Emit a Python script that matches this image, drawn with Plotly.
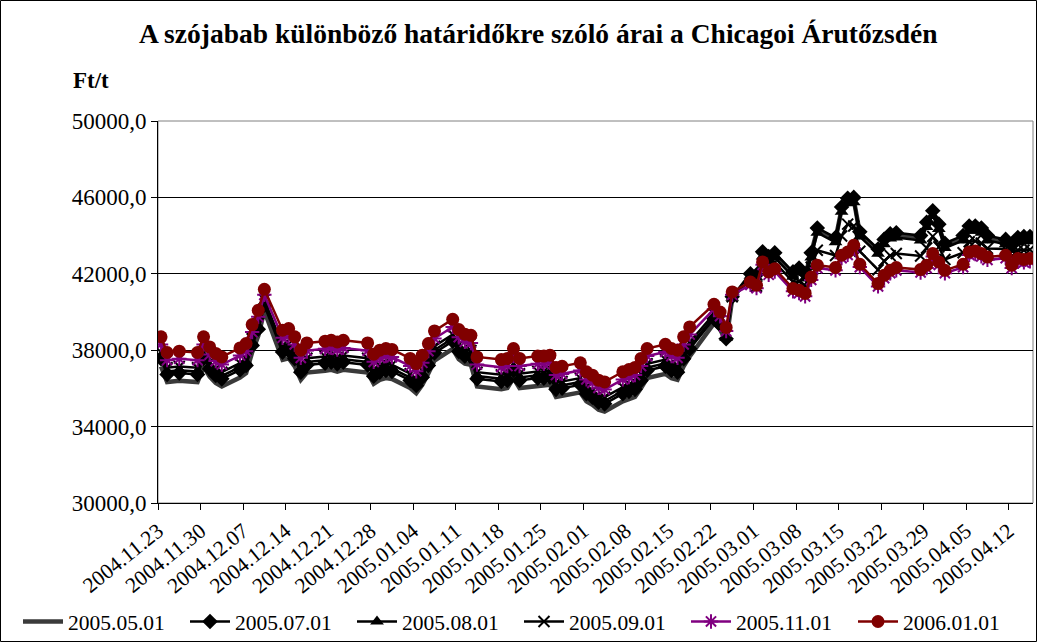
import pandas as pd
import plotly.graph_objects as go

dates = ["2004-11-23","2004-11-24","2004-11-26","2004-11-29","2004-11-30","2004-12-01","2004-12-02","2004-12-03",
         "2004-12-06","2004-12-07","2004-12-08","2004-12-09","2004-12-10","2004-12-13","2004-12-14","2004-12-15",
         "2004-12-16","2004-12-17","2004-12-20","2004-12-21","2004-12-22","2004-12-23","2004-12-27","2004-12-28",
         "2004-12-29","2004-12-30","2004-12-31","2005-01-03","2005-01-04","2005-01-05","2005-01-06","2005-01-07",
         "2005-01-10","2005-01-11","2005-01-12","2005-01-13","2005-01-14","2005-01-18","2005-01-19","2005-01-20",
         "2005-01-21","2005-01-24","2005-01-25","2005-01-26","2005-01-27","2005-01-28","2005-01-31","2005-02-01",
         "2005-02-02","2005-02-03","2005-02-04","2005-02-07","2005-02-08","2005-02-09","2005-02-10","2005-02-11",
         "2005-02-14","2005-02-15","2005-02-16","2005-02-17","2005-02-18","2005-02-22","2005-02-23","2005-02-24",
         "2005-02-25","2005-02-28","2005-03-01","2005-03-02","2005-03-03","2005-03-04","2005-03-07","2005-03-08",
         "2005-03-09","2005-03-10","2005-03-11","2005-03-14","2005-03-15","2005-03-16","2005-03-17","2005-03-18",
         "2005-03-21","2005-03-22","2005-03-23","2005-03-24","2005-03-28","2005-03-29","2005-03-30","2005-03-31",
         "2005-04-01","2005-04-04","2005-04-05","2005-04-06","2005-04-07","2005-04-08","2005-04-11","2005-04-12",
         "2005-04-13","2005-04-14","2005-04-15"]

s_2006_01 = [38700,37880,37950,37880,38700,38170,37830,37650,38120,38350,39340,40090,41190,39050,39130,38700,
             38000,38380,38470,38520,38430,38520,38380,37790,38000,38090,38040,37570,37300,37740,38350,39010,
             39620,39080,38840,38780,37650,37510,37570,38090,37570,37690,37690,37740,37100,37160,37340,36870,
             36690,36430,36340,36870,36990,37100,37570,38090,38310,38090,38000,38700,39220,40400,40000,39190,
             41050,41570,41400,42620,42100,42270,41230,41140,40970,41830,42450,42330,42970,43140,43490,42500,
             41490,41920,42180,42330,42220,42450,43060,42620,42180,42500,43140,43190,43060,42880,42970,42450,
             42800,42750,42800]

s_2005_11 = [38300,37480,37550,37480,38300,37770,37430,37250,37720,37950,38950,39750,40900,38650,38730,38300,
             37600,37980,38070,38120,38030,38120,37980,37390,37600,37690,37640,37170,36900,37340,37950,38610,
             39220,38680,38440,38380,37250,37110,37170,37690,37170,37290,37290,37340,36700,36760,36940,36470,
             36290,36030,35940,36470,36590,36700,37170,37690,37910,37690,37600,38300,38820,40150,39780,39000,
             40900,41420,41250,42470,41950,42120,41080,40990,40820,41680,42300,42180,42820,42990,43340,42350,
             41340,41770,42030,42180,42070,42300,42910,42470,42030,42350,42990,43040,42910,42730,42820,42300,
             42650,42600,42650]

s_2005_09 = [37900,37080,37150,37080,37900,37370,37030,36850,37320,37550,38600,39400,40650,38250,38330,37900,
             37200,37580,37670,37720,37630,37720,37580,36990,37200,37290,37240,36770,36500,36940,37550,38210,
             38820,38280,38040,37980,36850,36710,36770,37290,36770,36890,36890,36940,36300,36360,36540,36070,
             35890,35630,35540,36070,36190,36300,36770,37290,37510,37290,37200,37900,38420,39900,39550,38800,
             40800,41700,41350,42830,42420,42600,41580,41600,41380,42340,43230,42960,43980,44600,44500,43180,
             42210,42670,42950,43060,42930,43350,43960,43410,42750,43100,43680,43710,43600,43330,43300,42870,
             43240,43230,43260]

s_2005_08 = [37700,36880,36950,36880,37700,37170,36830,36650,37120,37350,38400,39250,40500,38050,38130,37700,
             37000,37380,37470,37520,37430,37520,37380,36790,37000,37090,37040,36570,36300,36740,37350,38010,
             38620,38080,37840,37780,36650,36510,36570,37090,36570,36690,36690,36740,36100,36160,36340,35870,
             35690,35430,35340,35870,35990,36100,36570,37090,37310,37090,37000,37700,38220,39750,39420,38650,
             40750,41900,41800,42900,42650,42850,41850,42050,41750,42850,44150,43650,45250,45700,45750,43950,
             43050,43550,43850,43900,43750,44450,45050,44350,43350,43750,44250,44250,44150,43750,43550,43250,
             43650,43700,43700]

s_2005_07 = [37550,36730,36800,36730,37550,37020,36680,36500,36970,37200,38250,39100,40350,37900,37980,37550,
             36850,37230,37320,37370,37280,37370,37230,36640,36850,36940,36890,36420,36150,36590,37200,37860,
             38470,37930,37690,37630,36500,36360,36420,36940,36420,36540,36540,36590,35950,36010,36190,35720,
             35540,35280,35190,35720,35840,35950,36420,36940,37160,36940,36850,37550,38070,39650,39330,38600,
             40800,42000,41950,43150,42900,43100,42100,42300,42000,43100,44400,43900,45500,45950,46000,44200,
             43300,43800,44100,44150,44000,44700,45300,44600,43600,44000,44500,44500,44400,44000,43800,43500,
             43900,43950,43950]

s_2005_05 = [37150,36330,36400,36330,37150,36620,36280,36100,36570,36800,37900,38750,40050,37500,37580,37150,
             36450,36830,36920,36970,36880,36970,36830,36240,36450,36540,36490,36020,35750,36190,36800,37460,
             38070,37530,37290,37230,36100,35960,36020,36540,36020,36140,36140,36190,35550,35610,35790,35320,
             35140,34880,34790,35320,35440,35550,36020,36540,36760,36540,36450,37150,37670,39400,39100,38450,
             40700,41950,41900,43050,42800,43000,42000,42200,41900,43000,44300,43800,45400,45850,45900,44100,
             43200,43700,44000,44050,43900,44600,45200,44500,43500,43900,44400,44400,44300,43900,43700,43400,
             43800,43850,43850]

y_range = [30000, 50000]
y_step = 4000

x = pd.to_datetime(dates) + pd.Timedelta(hours=12)

series = [
    ("2005.05.01", s_2005_05, dict(color="#3a3a3a", width=4.5), None),
    ("2005.07.01", s_2005_07, dict(color="black", width=2.5), dict(symbol="diamond", size=12, color="black")),
    ("2005.08.01", s_2005_08, dict(color="black", width=2.5), dict(symbol="triangle-up", size=12, color="black")),
    ("2005.09.01", s_2005_09, dict(color="black", width=2.5), dict(symbol="x-thin-open", size=11, color="black", line=dict(width=2, color="black"))),
    ("2005.11.01", s_2005_11, dict(color="#800080", width=2.5), dict(symbol="asterisk-open", size=12, color="#800080", line=dict(width=2, color="#800080"))),
    ("2006.01.01", s_2006_01, dict(color="#800000", width=2.5), dict(symbol="circle", size=13, color="#800000")),
]

L, R, T, B = 158, 4, 121, 139
W, H = 1037, 642
pw, ph = W - L - R, H - T - B
FONT = "Liberation Serif, Times New Roman, serif"

fig = go.Figure()
legend_layout = {}
for i, (name, vals, line, marker) in enumerate(series):
    lg = "legend" if i == 0 else f"legend{i + 1}"
    kw = dict(x=x, y=vals, name=name, line=line, legend=lg)
    if marker is None:
        fig.add_trace(go.Scatter(mode="lines", **kw))
    else:
        fig.add_trace(go.Scatter(mode="lines+markers", marker=marker, **kw))
    text_start = 66 + 167 * i
    legend_layout[lg] = dict(orientation="h", xref="container", yref="container",
                             x=(text_start - 48) / W, y=0.0, xanchor="left", yanchor="bottom",
                             font=dict(size=21.5, family=FONT), itemwidth=40,
                             bgcolor="rgba(0,0,0,0)")

fig.update_layout(
    width=W, height=H,
    margin=dict(l=L, r=R, t=T, b=B, pad=0, autoexpand=False),
    paper_bgcolor="white", plot_bgcolor="white",
    separators=", ",
    font=dict(family=FONT, size=20, color="black"),
    title=dict(text="<b>A szójabab különböző határidőkre szóló árai a Chicagoi Árutőzsdén</b>",
               x=0.519, xref="container", y=0.948, yref="container", xanchor="center", yanchor="middle",
               font=dict(size=27.5, family=FONT, color="black")),
    showlegend=True,
    xaxis=dict(type="date", range=["2004-11-23", "2005-04-16"], tick0="2004-11-23", dtick=7 * 86400000,
               tickformat="%Y.%m.%d", tickangle=-39, ticks="outside", ticklen=6, tickcolor="black",
               showgrid=False, showline=True, linecolor="black", linewidth=1, zeroline=False,
               tickfont=dict(size=21.5), automargin=False),
    yaxis=dict(range=y_range, dtick=y_step, tick0=y_range[0], tickformat=".1f", ticks="outside", ticklen=6,
               tickcolor="black", showgrid=True, gridcolor="black", gridwidth=1, showline=True,
               linecolor="black", linewidth=1, zeroline=False, tickfont=dict(size=23), automargin=False),
    **legend_layout,
)

# plot area frame (gray) and outer chart border
fig.add_shape(type="rect", xref="paper", yref="paper", x0=0, x1=1, y0=0, y1=1,
              line=dict(color="#808080", width=1), layer="below")
fig.add_shape(type="rect", xref="paper", yref="paper",
              x0=(0.5 - L) / pw, x1=(W - 0.5 - L) / pw,
              y0=-(B - 0.5) / ph, y1=1 + (T - 0.5) / ph,
              line=dict(color="black", width=1))

fig.add_annotation(text="<b>Ft/t</b>", xref="paper", yref="paper", x=(91 - L) / pw, y=1 + (121 - 80) / ph,
                   showarrow=False, font=dict(size=23, family=FONT),
                   xanchor="center", yanchor="middle")

fig.write_html("out.html", config={"displayModeBar": False},
               post_script="document.body.style.margin='0';document.body.style.overflow='hidden';")
